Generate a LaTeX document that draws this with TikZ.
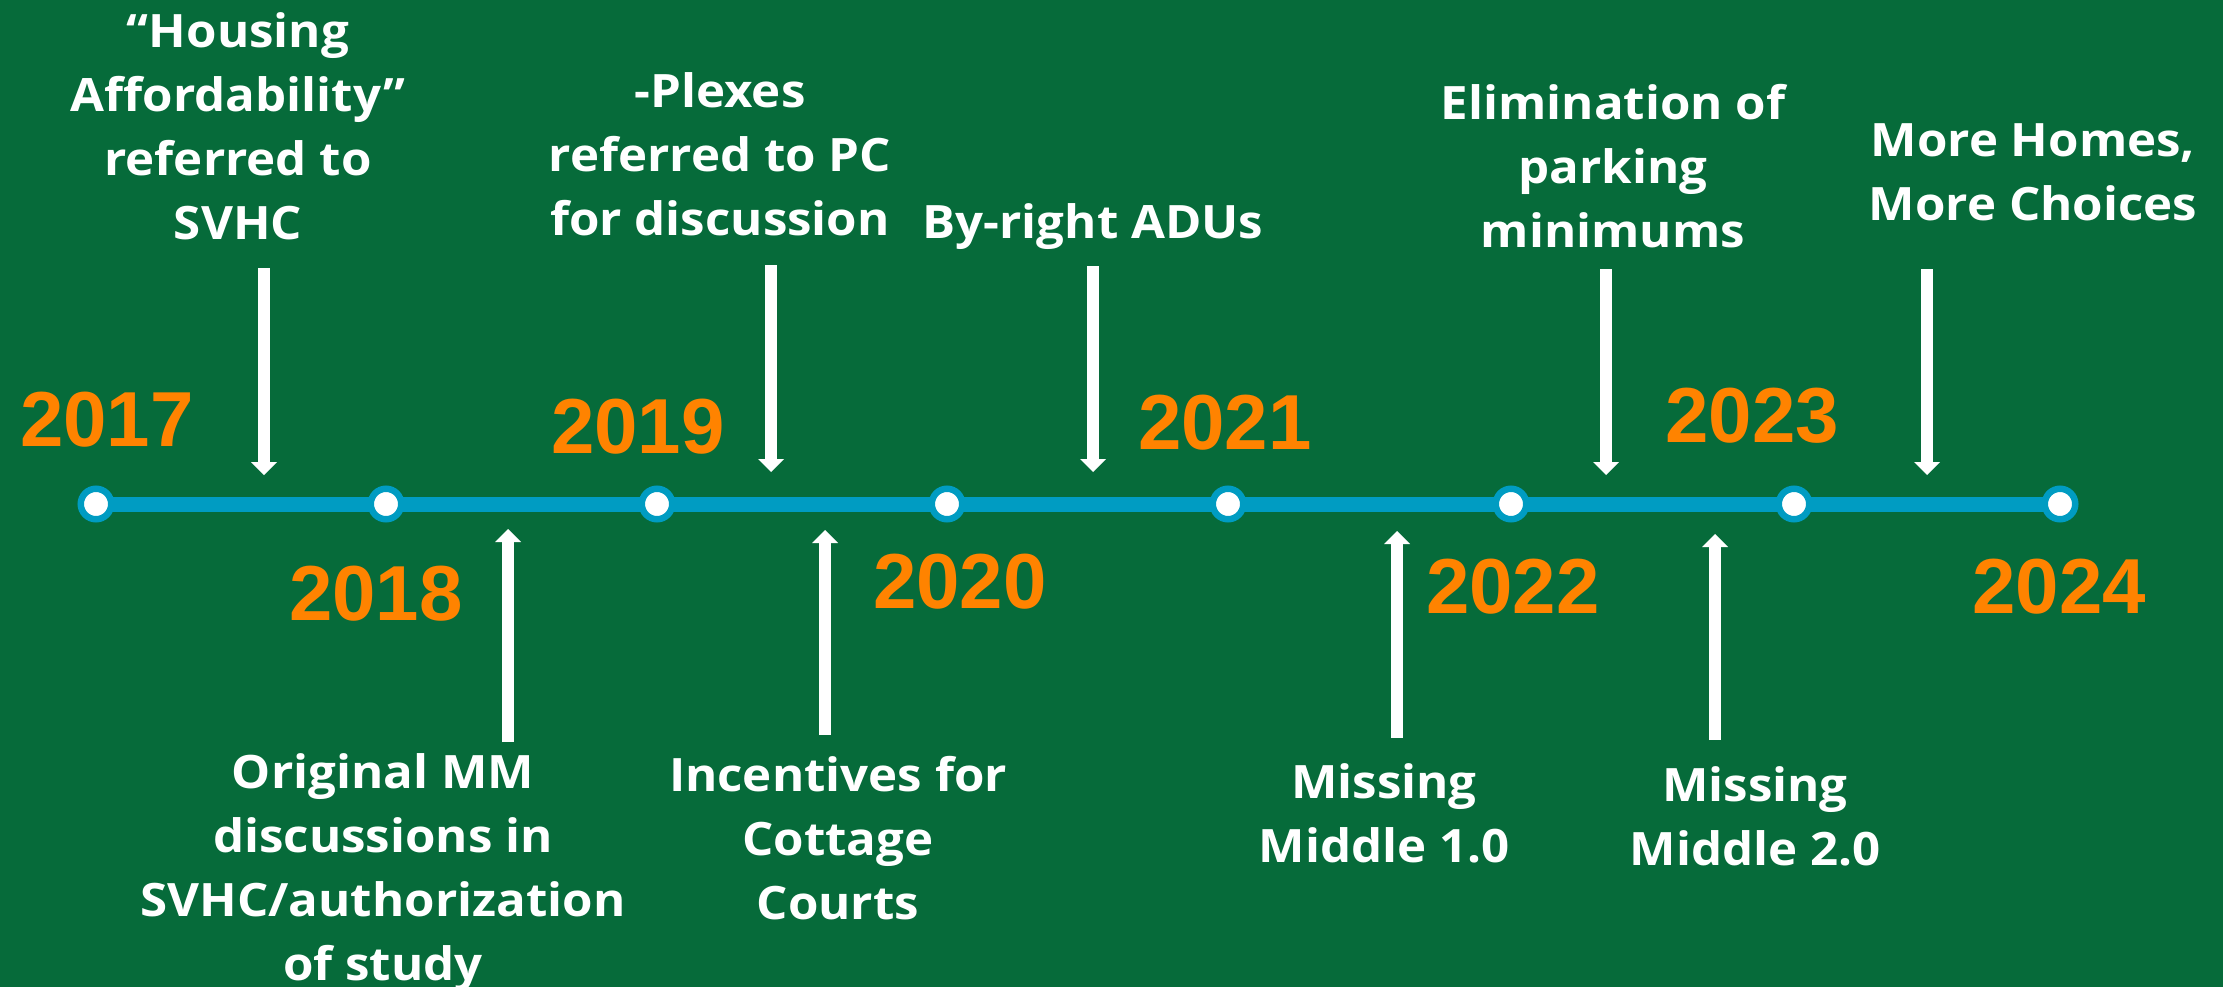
\documentclass[tikz,border=0pt]{standalone}
\usepackage{fontspec}
\setmainfont{Open Sans}[FakeStretch=1.07]
\newfontfamily\yearfont{Liberation Sans}
\usepackage{tikz}
\usetikzlibrary{positioning, arrows.meta}

\definecolor{bggreen}{HTML}{066B3A}
\definecolor{lineblue}{HTML}{009CC2}
\definecolor{yearorange}{HTML}{FF8300}

\begin{document}
\begin{tikzpicture}[
    x=1pt, y=-1pt, % one unit per pixel, y running down
    yearnode/.style={font=\yearfont\bfseries\fontsize{78}{80}\selectfont, text=yearorange, anchor=base, inner sep=0},
    eventnode/.style={font=\bfseries\fontsize{46}{64}\selectfont, text=white, align=center, anchor=north, inner sep=0},
    dotnode/.style={circle, fill=white, draw=lineblue, line width=6.5pt, minimum size=30.5pt, inner sep=0},
    arrowstyle/.style={draw=white, line width=12pt, -{Triangle[width=26pt, length=13pt, line width=0pt]}},
    timeline/.style={draw=lineblue, line width=15pt}
]

% background
\fill[bggreen] (0,0) rectangle (2223,987);
\useasboundingbox (0,0) rectangle (2223,987);

% the line and its year dots
\foreach \yr/\px in {2017/96, 2018/386, 2019/657, 2020/947, 2021/1228, 2022/1511, 2023/1794, 2024/2060}
    \coordinate (d\yr) at (\px,504);
\draw[timeline] (d2017) -- (d2024);
\foreach \yr in {2017,...,2024}
    \node[dotnode] (dot\yr) at (d\yr) {};

% years
\node[yearnode] (y2017) at (107,446) {2017};
\node[yearnode] (y2018) at (376,620) {2018};
\node[yearnode] (y2019) at (638,453) {2019};
\node[yearnode] (y2020) at (960,608) {2020};
\node[yearnode] (y2021) at (1225,449) {2021};
\node[yearnode] (y2022) at (1513,613) {2022};
\node[yearnode] (y2023) at (1752,442) {2023};
\node[yearnode] (y2024) at (2059,613) {2024};

% events above the line
\node[eventnode] (ev1) at (238,12) {``Housing\\Affordability''\\referred to\\SVHC};
\node[eventnode] (ev3) at (720,72) {-Plexes\\referred to PC\\for discussion};
\node[eventnode] (ev5) at (1093,203) {By-right ADUs};
\node[eventnode] (ev7) at (1613,84) {Elimination of\\parking\\minimums};
\node[eventnode] (ev9) at (2033,123) {More Homes,\\More Choices};

% events below the line
\node[eventnode] (ev2) at (383,753) {Original MM\\discussions in\\SVHC/authorization\\of study};
\node[eventnode] (ev4) at (838,756) {Incentives for\\Cottage\\Courts};
\node[eventnode] (ev6) at (1384,763) {Missing\\Middle 1.0};
\node[eventnode] (ev8) at (1755,766) {Missing\\Middle 2.0};

% arrow ends
\coordinate (a1s) at (264,268);  \coordinate (a1e) at (264,475);
\coordinate (a2s) at (508,742);  \coordinate (a2e) at (508,529);
\coordinate (a3s) at (771,265);  \coordinate (a3e) at (771,472);
\coordinate (a4s) at (825,735);  \coordinate (a4e) at (825,530);
\coordinate (a5s) at (1093,266); \coordinate (a5e) at (1093,472);
\coordinate (a6s) at (1397,738); \coordinate (a6e) at (1397,531);
\coordinate (a7s) at (1606,269); \coordinate (a7e) at (1606,475);
\coordinate (a8s) at (1715,740); \coordinate (a8e) at (1715,534);
\coordinate (a9s) at (1927,269); \coordinate (a9e) at (1927,475);

\draw[arrowstyle] (a1s) -- (a1e);
\draw[arrowstyle] (a2s) -- (a2e);
\draw[arrowstyle] (a3s) -- (a3e);
\draw[arrowstyle] (a4s) -- (a4e);
\draw[arrowstyle] (a5s) -- (a5e);
\draw[arrowstyle] (a6s) -- (a6e);
\draw[arrowstyle] (a7s) -- (a7e);
\draw[arrowstyle] (a8s) -- (a8e);
\draw[arrowstyle] (a9s) -- (a9e);

\end{tikzpicture}
\end{document}
